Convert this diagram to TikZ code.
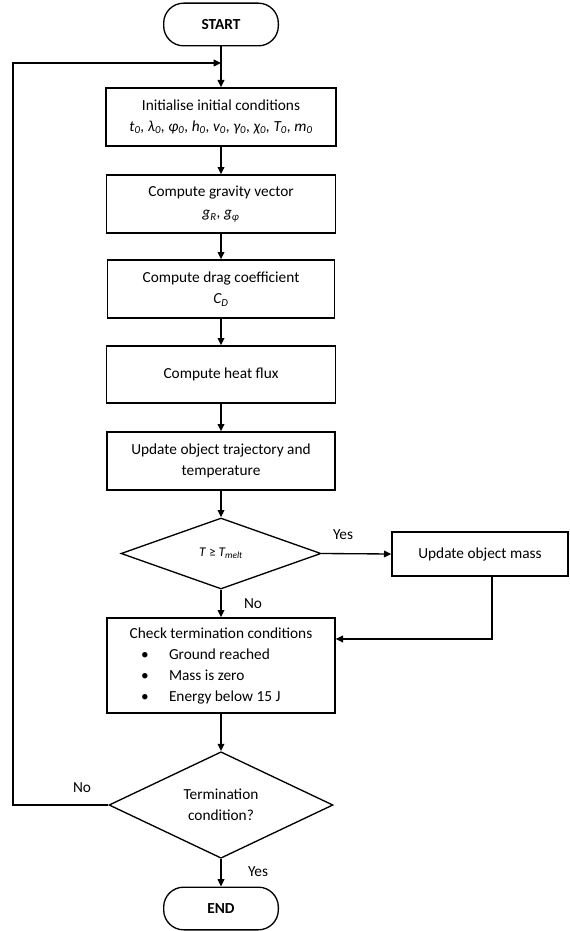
\documentclass[tikz,border=0pt]{standalone}
\usepackage{fontspec}
\setmainfont{Carlito}
\usetikzlibrary{shapes.geometric,arrows.meta}
\newcommand\sbs[1]{\textsubscript{#1}}
\newcommand\chkitem[1]{\par\makebox[46.5pt][l]{\hspace*{25.5pt}\textbullet}#1}
\begin{document}
\begin{tikzpicture}[x=0.75pt,y=-0.75pt,
  every node/.style={font=\fontsize{11.5}{15.75}\selectfont},
  box/.style={draw, line width=1pt, rectangle, align=center, inner sep=0pt},
  term/.style={draw, line width=1pt, rectangle, rounded corners=15pt,
    minimum width=86pt, minimum height=32pt, font=\fontsize{11.5}{13}\selectfont\bfseries},
  decision/.style={draw, line width=1pt, diamond, align=center, inner sep=0pt},
  arr/.style={line width=1pt, -{Triangle[length=5.5pt,width=5pt]}},
  lbl/.style={inner sep=0pt}]
\useasboundingbox (0,0) rectangle (569,931);

% main column, all centred on one vertical axis
\node[term] (start) at (221,24.5) {START};
\node[box, minimum width=172.5pt, minimum height=43.5pt] (init) at (221,117)
  {Initialise initial conditions\\
   \textit{t\sbs{0}, λ\sbs{0}, φ\sbs{0}, h\sbs{0}, v\sbs{0}, γ\sbs{0}, χ\sbs{0}, T\sbs{0}, m\sbs{0}}};
\node[box, minimum width=171.75pt, minimum height=43.5pt] (grav) at (221,204)
  {Compute gravity vector\\ \textit{g\sbs{R}, g\sbs{φ}}};
\node[box, minimum width=170.25pt, minimum height=43.5pt] (drag) at (221,289)
  {Compute drag coefficient\\ \textit{C\sbs{D}}};
\node[box, minimum width=171.75pt, minimum height=42.75pt] (heat) at (221,374.5)
  {Compute heat flux};
\node[box, minimum width=171pt, minimum height=43.5pt] (traj) at (221,461)
  {Update object trajectory and\\ temperature};
\node[decision, minimum width=150pt, minimum height=53.25pt,
  font=\fontsize{10}{12}\selectfont] (melt) at (221,553.5)
  {\textit{T} ≥ \textit{T\sbs{melt}}};
\node[box, minimum width=132pt, minimum height=33pt] (mass) at (480,554)
  {Update object mass};
\node[box, minimum width=171pt, minimum height=71.25pt] (check) at (221,665.5)
  {\begin{minipage}{171pt}\centering Check termination conditions\par
   \raggedright
   \chkitem{Ground reached}
   \chkitem{Mass is zero}
   \chkitem{Energy below 15 J}\end{minipage}};
\node[decision, minimum width=168pt, minimum height=73.5pt] (done) at (221,805)
  {Termination\\ condition?};
\node[term] (end) at (221,908.5) {END};

% loop entry point on the main line
\coordinate (loopin) at (221,63);
\coordinate (loopx) at (13,0);

% connectors
\draw[arr] (start) -- (init);
\draw[arr] (init) -- (grav);
\draw[arr] (grav) -- (drag);
\draw[arr] (drag) -- (heat);
\draw[arr] (heat) -- (traj);
\draw[arr] (traj) -- (melt);
\draw[arr] (melt) -- (check);
\draw[arr] (melt.east) -- (mass.west);
\draw[arr] ([xshift=9pt]mass.south) |- ([yshift=19.9pt]check.east);
\draw[arr] (check) -- (done);
\draw[arr] (done) -- (end);
\draw[arr] (done.west) -| (loopx |- loopin) -- (loopin);

% branch labels
\node[lbl] (ymelt) at (343,535) {Yes};
\node[lbl] (nmelt) at (253,604) {No};
\node[lbl] (ndone) at (82,788) {No};
\node[lbl] (ydone) at (258,872) {Yes};
\end{tikzpicture}
\end{document}
